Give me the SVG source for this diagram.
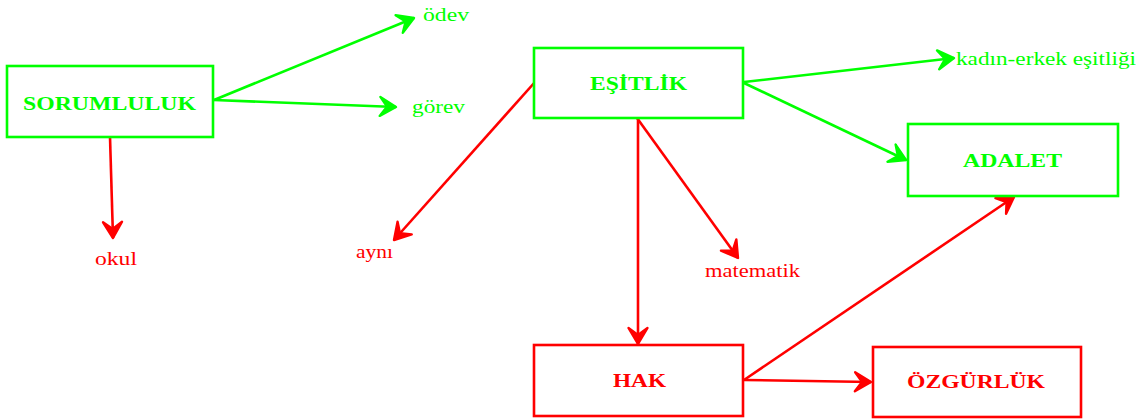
<svg xmlns="http://www.w3.org/2000/svg" width="1144" height="419" viewBox="0 0 1144 419">
  <style>
    .g { stroke: #00ff00; }
    .r { stroke: #ff0000; }
    .box { fill: #ffffff; stroke-width: 2.6; }
    .edge { fill: none; stroke-width: 2.6; }
    .title { font-family: "Liberation Serif", "Times New Roman", serif; font-size: 18px; font-weight: bold; }
    .label { font-family: "Liberation Serif", "Times New Roman", serif; font-size: 18px; }
    .tg { fill: #00ff00; }
    .tr { fill: #ff0000; }
  </style>
  <defs>
    <!-- barbed arrowheads, drawn in user units so every edge gets the same size -->
    <marker id="arrow-green" markerUnits="userSpaceOnUse" viewBox="-22 -14 26 28" markerWidth="26" markerHeight="28" refX="0" refY="0" orient="auto">
      <path d="M0,0 L-16,-9.5 L-9,0 L-16,9.5 Z" fill="#00ff00" stroke="#00ff00" stroke-width="2.4" stroke-linejoin="round"/>
    </marker>
    <marker id="arrow-red" markerUnits="userSpaceOnUse" viewBox="-22 -14 26 28" markerWidth="26" markerHeight="28" refX="0" refY="0" orient="auto">
      <path d="M0,0 L-16,-9.5 L-9,0 L-16,9.5 Z" fill="#ff0000" stroke="#ff0000" stroke-width="2.4" stroke-linejoin="round"/>
    </marker>
  </defs>
  <rect width="1144" height="419" fill="#ffffff"/>

  <g id="connectors">
    <line class="edge g" x1="214" y1="100" x2="414" y2="18" marker-end="url(#arrow-green)"/>
    <line class="edge g" x1="214" y1="100" x2="396" y2="107" marker-end="url(#arrow-green)"/>
    <line class="edge r" x1="110" y1="137" x2="113" y2="238" marker-end="url(#arrow-red)"/>
    <line class="edge r" x1="535" y1="82" x2="394" y2="240" marker-end="url(#arrow-red)"/>
    <line class="edge r" x1="637" y1="118" x2="738" y2="258" marker-end="url(#arrow-red)"/>
    <line class="edge r" x1="638" y1="118" x2="638" y2="344" marker-end="url(#arrow-red)"/>
    <line class="edge g" x1="744" y1="82" x2="954" y2="58" marker-end="url(#arrow-green)"/>
    <line class="edge g" x1="744" y1="83" x2="906" y2="160" marker-end="url(#arrow-green)"/>
    <line class="edge r" x1="744" y1="380" x2="1014" y2="197" marker-end="url(#arrow-red)"/>
    <line class="edge r" x1="744" y1="380" x2="871" y2="382" marker-end="url(#arrow-red)"/>
  </g>

  <g id="sorumluluk">
    <rect class="box g" x="7" y="66" width="206" height="71"/>
    <text class="title tg" x="23" y="110" textLength="173" lengthAdjust="spacingAndGlyphs">SORUMLULUK</text>
  </g>
  <g id="esitlik">
    <rect class="box g" x="534" y="48" width="209" height="70"/>
    <text class="title tg" x="590" y="90" textLength="97" lengthAdjust="spacingAndGlyphs">EŞİTLİK</text>
  </g>
  <g id="adalet">
    <rect class="box g" x="908" y="124" width="210" height="72"/>
    <text class="title tg" x="963" y="167" textLength="99" lengthAdjust="spacingAndGlyphs">ADALET</text>
  </g>
  <g id="hak">
    <rect class="box r" x="534" y="345" width="209" height="71"/>
    <text class="title tr" x="613" y="387" textLength="53" lengthAdjust="spacingAndGlyphs">HAK</text>
  </g>
  <g id="ozgurluk">
    <rect class="box r" x="873" y="347" width="208" height="70"/>
    <text class="title tr" x="907" y="388" textLength="138" lengthAdjust="spacingAndGlyphs">ÖZGÜRLÜK</text>
  </g>

  <g id="odev"><text class="label tg" x="423" y="21" textLength="46" lengthAdjust="spacingAndGlyphs">ödev</text></g>
  <g id="gorev"><text class="label tg" x="412" y="113" textLength="53" lengthAdjust="spacingAndGlyphs">görev</text></g>
  <g id="okul"><text class="label tr" x="95" y="265" textLength="42" lengthAdjust="spacingAndGlyphs">okul</text></g>
  <g id="ayni"><text class="label tr" x="356" y="258" textLength="37" lengthAdjust="spacingAndGlyphs">aynı</text></g>
  <g id="matematik"><text class="label tr" x="705" y="277" textLength="95" lengthAdjust="spacingAndGlyphs">matematik</text></g>
  <g id="kadin-erkek"><text class="label tg" x="956" y="65" textLength="180" lengthAdjust="spacingAndGlyphs">kadın-erkek eşitliği</text></g>
</svg>
